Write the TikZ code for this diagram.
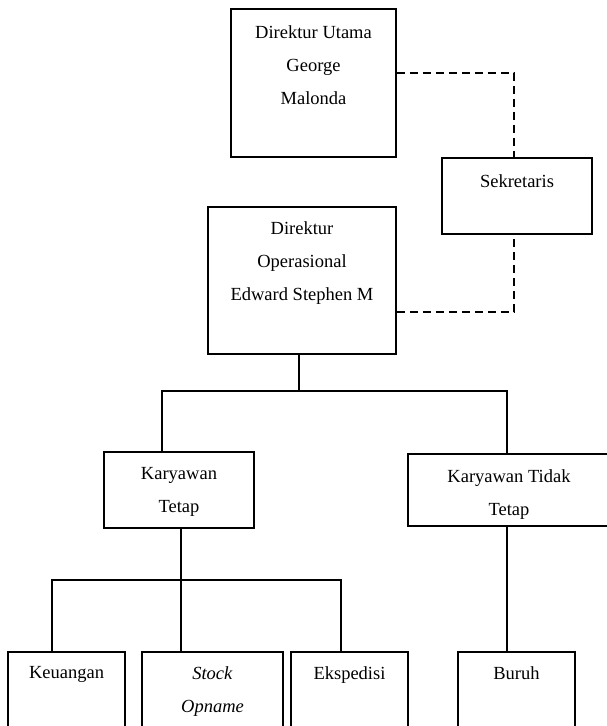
\documentclass[tikz,border=0pt]{standalone}
\usepackage{fontspec}
\setmainfont{Liberation Serif}
\usetikzlibrary{positioning}

\begin{document}
\begin{tikzpicture}[x=1pt, y=-1pt,
  kotak/.style={draw, line width=1.6pt, inner sep=0pt},
  teks/.style={font=\fontsize{18.5}{33}\selectfont, align=center, inner sep=0pt},
  garis/.style={line width=1.4pt},
  putus/.style={line width=1.4pt, dash pattern=on 8pt off 5pt}]
  \useasboundingbox (0,0) rectangle (607,726);
  % Direktur Utama
  \node[kotak, minimum width=165pt, minimum height=148pt] (dirut) at (313.5,83) {};
  \node[teks, below=17pt of dirut.north] (dirut-t) {Direktur Utama\\George\\Malonda};
  % Sekretaris
  \node[kotak, minimum width=150pt, minimum height=76pt] (sekretaris) at (517,196) {};
  \node[teks, below=17pt of sekretaris.north] (sekretaris-t) {Sekretaris};
  % Direktur Operasional
  \node[kotak, minimum width=188pt, minimum height=147pt] (dirop) at (302,280.5) {};
  \node[teks, below=15pt of dirop.north] (dirop-t) {Direktur\\Operasional\\Edward Stephen M};
  % Karyawan
  \node[kotak, minimum width=150pt, minimum height=76pt] (tetap) at (179,490) {};
  \node[teks, below=16pt of tetap.north] (tetap-t) {Karyawan\\Tetap};
  \node[kotak, minimum width=202pt, minimum height=72pt] (tidaktetap) at (509,490) {};
  \node[teks, below=16pt of tidaktetap.north] (tidaktetap-t) {Karyawan Tidak\\Tetap};
  % Bagian bawah
  \node[kotak, minimum width=117pt, minimum height=108pt] (keuangan) at (66.5,706) {};
  \node[teks, below=15pt of keuangan.north] (keuangan-t) {Keuangan};
  \node[kotak, minimum width=141pt, minimum height=108pt] (stock) at (212.5,706) {};
  \node[teks, below=15pt of stock.north] (stock-t) {\textit{Stock}\\\textit{Opname}};
  \node[kotak, minimum width=117pt, minimum height=108pt] (ekspedisi) at (349.5,706) {};
  \node[teks, below=15pt of ekspedisi.north] (ekspedisi-t) {Ekspedisi};
  \node[kotak, minimum width=117pt, minimum height=108pt] (buruh) at (516.5,706) {};
  \node[teks, below=15pt of buruh.north] (buruh-t) {Buruh};
  % Garis putus-putus ke sekretaris
  \draw[putus] ([yshift=10pt]dirut.east) -| ([xshift=-3pt]sekretaris.north);
  \draw[putus] ([yshift=-31.5pt]dirop.east) -| ([xshift=-3pt]sekretaris.south);
  % Garis komando
  \coordinate (cabang1) at ([xshift=-3pt, yshift=-36pt]dirop.south);
  \draw[garis] ([xshift=-3pt]dirop.south) -- (cabang1);
  \draw[garis] ([xshift=-17pt]tetap.north) |- (cabang1) -| ([xshift=-2pt]tidaktetap.north);
  \coordinate (cabang2) at ([xshift=2pt, yshift=-51pt]tetap.south);
  \draw[garis] ([xshift=2pt]tetap.south) -- (cabang2 |- stock.north);
  \draw[garis] ([xshift=-14.5pt]keuangan.north) |- (cabang2) -| ([xshift=-8.5pt]ekspedisi.north);
  \draw[garis] ([xshift=-2pt]tidaktetap.south) -- ([xshift=-2pt]tidaktetap.south |- buruh.north);
\end{tikzpicture}
\end{document}
